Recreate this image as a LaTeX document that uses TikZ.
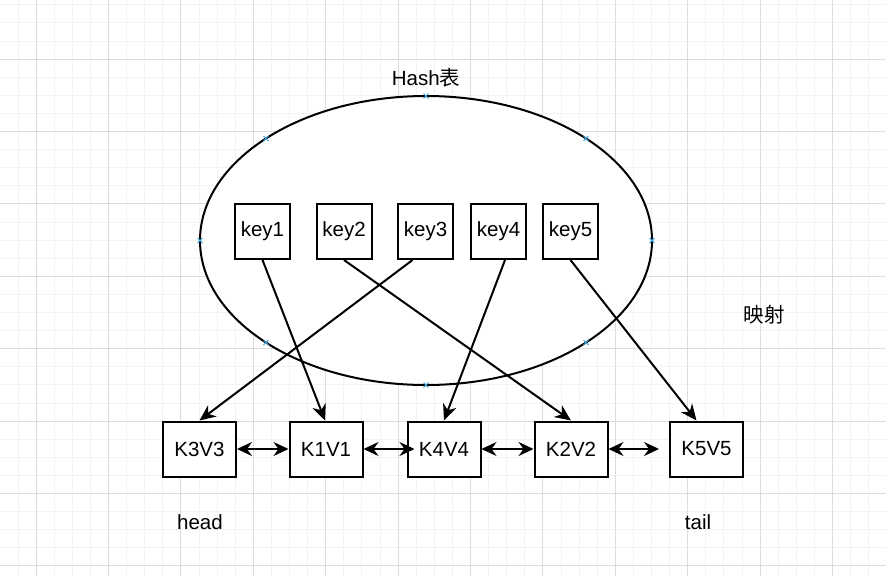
\documentclass[tikz,border=0pt]{standalone}
\usepackage{fontspec}
\setmainfont{Liberation Sans}
\newfontfamily\cjk{Noto Sans CJK SC}
\usetikzlibrary{shapes.geometric,arrows.meta,calc}
\definecolor{gmajor}{HTML}{DCDCDC}
\definecolor{gminor}{HTML}{F3F3F3}
\definecolor{mark}{HTML}{3AA6E0}
\tikzset{
  keybox/.style={draw=black,line width=2pt,fill=white,minimum width=55pt,minimum height=55pt,inner sep=0pt,font=\fontsize{20.5}{24}\selectfont},
  kvbox/.style={draw=black,line width=2pt,fill=white,minimum width=73pt,minimum height=55pt,inner sep=0pt,font=\fontsize{20.5}{24}\selectfont},
  lbl/.style={inner sep=0pt,font=\fontsize{20.5}{24}\selectfont},
  link/.style={line width=2pt,-{Stealth[length=16pt,width=14pt,inset=5pt]}},
  dlink/.style={line width=2pt,{Stealth[length=15pt,width=14pt,inset=5pt]}-{Stealth[length=15pt,width=14pt,inset=5pt]}},
  xmark/.style={draw=mark,line width=1pt}
}
\begin{document}
\begin{tikzpicture}[x=1pt,y=-1pt]
\useasboundingbox (0,0) rectangle (886,576);
\fill[white] (0,0) rectangle (886,576);
% grid
\foreach \j in {-2,...,47} {\draw[gminor,line width=0.8pt] ({36+18.1*\j},0) -- ({36+18.1*\j},576);}
\foreach \j in {-3,...,28} {\draw[gminor,line width=0.8pt] (0,{59+18.1*\j}) -- (886,{59+18.1*\j});}
\foreach \j in {0,...,11} {\draw[gmajor,line width=1pt] ({36+72.4*\j},0) -- ({36+72.4*\j},576);}
\foreach \j in {-1,...,7} {\draw[gmajor,line width=1pt] (0,{59+72.4*\j}) -- (886,{59+72.4*\j});}
% hash ellipse
\node[ellipse,draw=black,line width=2pt,fill=white,minimum width=452pt,minimum height=289pt,inner sep=0pt,outer sep=0pt] (hash) at (426,240.5) {};
\foreach \p in {(426,96),(426,385),(200,240.5),(652,240.5),(266,138.5),(586,138.5),(266,342.5),(586,342.5)} {
  \draw[xmark] \p ++(-2.5,-2.5) -- ++(5,5) \p ++(-2.5,2.5) -- ++(5,-5);
}
\node[lbl] (title) at (426,78) {Hash{\cjk 表}};
\node[lbl] (map) at (764,315) {\cjk 映射};
\node[lbl] (head) at (200,522) {head};
\node[lbl] (tail) at (698,522) {tail};
% keys
\node[keybox] (k1) at (262.5,231.5) {key1};
\node[keybox] (k2) at (344,231.5) {key2};
\node[keybox] (k3) at (425.5,231.5) {key3};
\node[keybox] (k4) at (498.5,231.5) {key4};
\node[keybox] (k5) at (570.5,231.5) {key5};
% kv
\node[kvbox] (kv3) at (199.5,449) {K3V3};
\node[kvbox] (kv1) at (326,449) {K1V1};
\node[kvbox] (kv4) at (444,449) {K4V4};
\node[kvbox] (kv2) at (571,449) {K2V2};
\node[kvbox] (kv5) at (706.5,449) {K5V5};
\coordinate (kv5in) at ($(kv5.west)+(-10,0)$);
% mapping arrows
\draw[link] (k1.south) -- ($(kv1.north)+(-1,0)$);
\draw[link] (k2.south) -- (kv2.north);
\draw[link] ($(k3.south)+(-13,0)$) -- (kv3.north);
\draw[link] ($(k4.south)+(6.5,0)$) -- (kv4.north);
\draw[link] (k5.south) -- ($(kv5.north)+(-10,0)$);
% list arrows
\draw[dlink] (kv3.east) -- (kv1.west);
\draw[dlink] (kv1.east) -- ($(kv4.west)+(8,0)$);
\draw[dlink] (kv4.east) -- (kv2.west);
\draw[dlink] (kv2.east) -- (kv5in);
\end{tikzpicture}
\end{document}
